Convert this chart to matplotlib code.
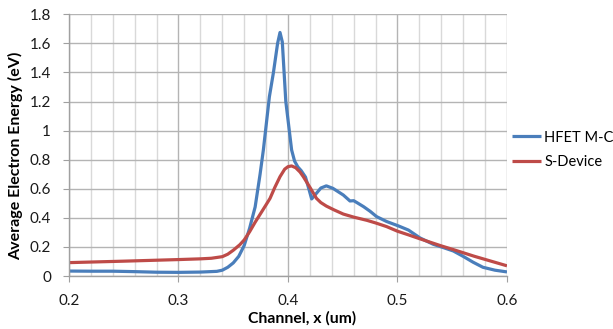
import matplotlib
matplotlib.use("Agg")
import matplotlib.pyplot as plt
from matplotlib.ticker import MultipleLocator

hfet_x = [0.200, 0.220, 0.240, 0.260, 0.280, 0.300, 0.320, 0.335, 0.340, 0.345,
          0.350, 0.355, 0.360, 0.365, 0.370, 0.3745, 0.3775, 0.383, 0.3867, 0.3905,
          0.3927, 0.3948, 0.398, 0.4033, 0.406, 0.409, 0.412, 0.416, 0.419, 0.4216,
          0.425, 0.430, 0.435, 0.441, 0.4505, 0.4566, 0.460, 0.464, 0.469, 0.475,
          0.481, 0.490, 0.501, 0.510, 0.5205, 0.5327, 0.542, 0.551, 0.560, 0.569,
          0.578, 0.589, 0.600]
hfet_y = [0.034, 0.033, 0.033, 0.030, 0.026, 0.025, 0.027, 0.032, 0.040, 0.060,
          0.090, 0.135, 0.210, 0.330, 0.475, 0.700, 0.867, 1.233, 1.400, 1.600,
          1.675, 1.610, 1.200, 0.867, 0.790, 0.750, 0.725, 0.680, 0.600, 0.530,
          0.560, 0.605, 0.620, 0.603, 0.557, 0.516, 0.518, 0.500, 0.477, 0.445,
          0.408, 0.375, 0.344, 0.316, 0.262, 0.218, 0.195, 0.172, 0.135, 0.095,
          0.060, 0.040, 0.028]

sdev_x = [0.200, 0.250, 0.300, 0.320, 0.330, 0.340, 0.345, 0.350, 0.356, 0.360,
          0.365, 0.370, 0.375, 0.380, 0.3836, 0.388, 0.3927, 0.397, 0.400, 0.4033,
          0.407, 0.411, 0.414, 0.420, 0.426, 0.430, 0.435, 0.442, 0.4505, 0.460,
          0.472, 0.480, 0.490, 0.500, 0.510, 0.520, 0.530, 0.540, 0.550, 0.560,
          0.570, 0.580, 0.590, 0.600]
sdev_y = [0.092, 0.102, 0.113, 0.118, 0.122, 0.133, 0.150, 0.177, 0.215, 0.248,
          0.305, 0.370, 0.430, 0.490, 0.534, 0.610, 0.683, 0.735, 0.752, 0.757,
          0.745, 0.715, 0.683, 0.610, 0.534, 0.505, 0.481, 0.455, 0.426, 0.405,
          0.383, 0.365, 0.340, 0.308, 0.283, 0.257, 0.232, 0.207, 0.184, 0.160,
          0.136, 0.114, 0.092, 0.070]

series_labels = ["HFET M-C", "S-Device"]
x_ticks = [0.2, 0.3, 0.4, 0.5, 0.6]
y_ticks = [0, 0.2, 0.4, 0.6, 0.8, 1, 1.2, 1.4, 1.6, 1.8]
y_tick_labels = ["0", "0.2", "0.4", "0.6", "0.8", "1", "1.2", "1.4", "1.6", "1.8"]

plt.rcParams['font.family'] = ['Lato', 'DejaVu Sans']

fig = plt.figure(figsize=(6.13, 3.29), dpi=100)
ax = fig.add_axes([69/613, 1-276/329, (507-69)/613, (276-14.3)/329])

ax.plot(hfet_x, hfet_y, color='#4A7EBB', lw=2.3, label=series_labels[0], solid_capstyle='butt')
ax.plot(sdev_x, sdev_y, color='#BE4B48', lw=2.3, label=series_labels[1], solid_capstyle='butt')

ax.set_xlim(0.2, 0.6)
ax.set_ylim(0, 1.8)
ax.set_xticks(x_ticks)
ax.set_xticklabels([str(v) for v in x_ticks])
ax.set_yticks(y_ticks)
ax.set_yticklabels(y_tick_labels)
ax.xaxis.set_minor_locator(MultipleLocator(0.02))

ax.grid(which='minor', axis='x', color='#D9D9D9', lw=1.0)
ax.grid(which='major', axis='x', color='#B4B4B4', lw=1.0)
ax.grid(which='major', axis='y', color='#B4B4B4', lw=1.0)
ax.set_axisbelow(True)

for s in ['top', 'right']:
    ax.spines[s].set_visible(False)
for s in ['left', 'bottom']:
    ax.spines[s].set_color('#A0A0A0')
    ax.spines[s].set_linewidth(1.0)

ax.tick_params(which='major', direction='out', length=4, color='#A0A0A0',
               labelsize=11, labelcolor='#1a1a1a', pad=9)
ax.tick_params(which='minor', length=0)
ax.tick_params(axis='x', pad=9)

ax.set_xlabel("Channel, x (um)", fontsize=11.3, fontweight='bold')
ax.set_ylabel("Average Electron Energy (eV)", fontsize=11.5, fontweight='bold')
ax.xaxis.set_label_coords((302-69)/438, (276-318)/261.7)
ax.xaxis.label.set_verticalalignment('center')
ax.yaxis.set_label_coords((16-69)/438, (276-156)/261.7)
ax.yaxis.label.set_verticalalignment('center')

fig.legend(loc='center left', bbox_to_anchor=(512/613, 1-150/329), frameon=False,
           fontsize=10.5, handlelength=2.0, handletextpad=0.2, labelspacing=0.75,
           borderpad=0, borderaxespad=0)

fig.savefig("out.png", dpi=100)
